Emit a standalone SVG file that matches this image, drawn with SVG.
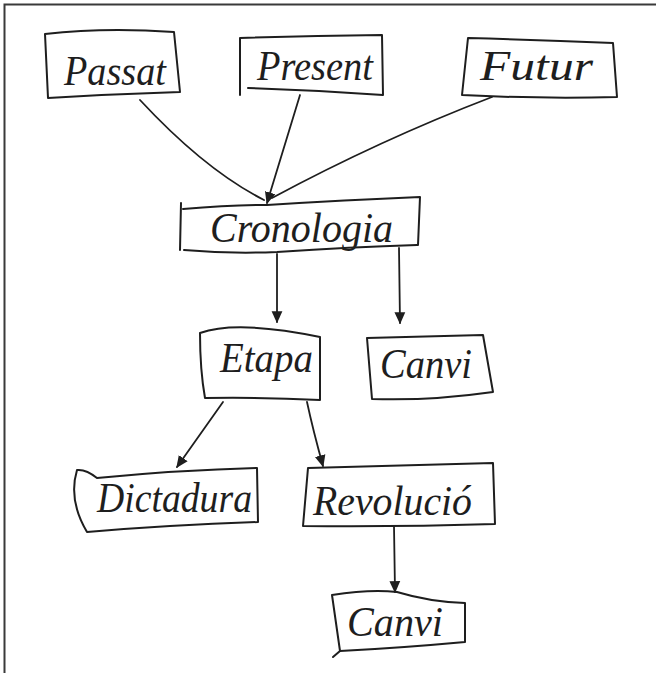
<svg xmlns="http://www.w3.org/2000/svg" width="657" height="673" viewBox="0 0 657 673">
  <style>
    .frame { stroke: #3a3a3a; stroke-width: 2; fill: none; }
    .box { stroke: #1e1e1e; stroke-width: 2; fill: none; stroke-linejoin: round; stroke-linecap: round; }
    .link { stroke: #1e1e1e; stroke-width: 1.8; fill: none; stroke-linecap: round; }
    .label { font-family: "Liberation Serif", "DejaVu Serif", serif; font-style: italic; font-size: 42px; fill: #1e1e1e; }
  </style>
  <defs>
    <marker id="arrow" viewBox="0 0 10 10" refX="9" refY="5" markerUnits="userSpaceOnUse" markerWidth="12" markerHeight="12" orient="auto">
      <path d="M0,0.5 L10,5 L0,9.5 Z" fill="#1e1e1e"/>
    </marker>
  </defs>

  <rect width="657" height="673" fill="#ffffff"/>

  <!-- page edge -->
  <path class="frame" d="M4.5,673 L4.5,4.5 L656,4.5"/>

  <!-- connectors -->
  <g id="connectors">
    <path class="link" d="M140,100 Q205,170 264,200"/>
    <path class="link" d="M300,95 L267,203" marker-end="url(#arrow)"/>
    <path class="link" d="M492,97 Q380,140 272,198"/>
    <path class="link" d="M277,254 L277,322" marker-end="url(#arrow)"/>
    <path class="link" d="M399,248 L400,323" marker-end="url(#arrow)"/>
    <path class="link" d="M223,402 L177,467" marker-end="url(#arrow)"/>
    <path class="link" d="M307,402 Q313,430 323,466" marker-end="url(#arrow)"/>
    <path class="link" d="M394,526 L395,592" marker-end="url(#arrow)"/>
  </g>

  <g id="passat">
    <path class="box" d="M45,34 Q105,27 174,32 L180,92 Q115,94 48,98 Z"/>
    <text class="label" x="64" y="85" textLength="102" lengthAdjust="spacingAndGlyphs">Passat</text>
  </g>

  <g id="present">
    <path class="box" d="M240,95 L240,38 Q310,36 382,35 L383,95 Q315,90 248,88"/>
    <text class="label" x="257" y="80" textLength="116" lengthAdjust="spacingAndGlyphs">Present</text>
  </g>

  <g id="futur">
    <path class="box" d="M462,95 L468,38 Q540,40 613,43 L617,97 Q540,99 462,95 Z"/>
    <text class="label" x="480" y="80" textLength="113" lengthAdjust="spacingAndGlyphs">Futur</text>
  </g>

  <g id="cronologia">
    <path class="box" d="M180,250 L181,203 M183,209 Q230,205 267,205 Q345,200 420,197 L418,245 M184,250 Q230,254 277,252 Q350,247 417,245"/>
    <text class="label" x="210" y="242" textLength="183" lengthAdjust="spacingAndGlyphs">Cronologia</text>
  </g>

  <g id="etapa">
    <path class="box" d="M200,333 Q237,320 320,337 L320,400 Q260,397 205,398 Q200,370 200,333 Z"/>
    <text class="label" x="220" y="372" textLength="93" lengthAdjust="spacingAndGlyphs">Etapa</text>
  </g>

  <g id="canvi-1">
    <path class="box" d="M367,338 L483,335 L493,392 Q430,401 372,399 Z"/>
    <text class="label" x="380" y="378" textLength="92" lengthAdjust="spacingAndGlyphs">Canvi</text>
  </g>

  <g id="dictadura">
    <path class="box" d="M77,470 Q86,469 97,478 Q180,470 257,468 L258,522 Q170,525 87,532 Q68,500 77,470 Z"/>
    <text class="label" x="97" y="512" textLength="155" lengthAdjust="spacingAndGlyphs">Dictadura</text>
  </g>

  <g id="revolucio">
    <path class="box" d="M308,468 L493,463 L495,524 Q400,527 303,526 Z"/>
    <text class="label" x="313" y="515" textLength="159" lengthAdjust="spacingAndGlyphs">Revolució</text>
  </g>

  <g id="canvi-2">
    <path class="box" d="M333,657 L340,651 Q400,648 465,642 L465,603 Q430,602 397,592 Q370,589 332,595 L340,651"/>
    <text class="label" x="347" y="636" textLength="96" lengthAdjust="spacingAndGlyphs">Canvi</text>
  </g>
</svg>
